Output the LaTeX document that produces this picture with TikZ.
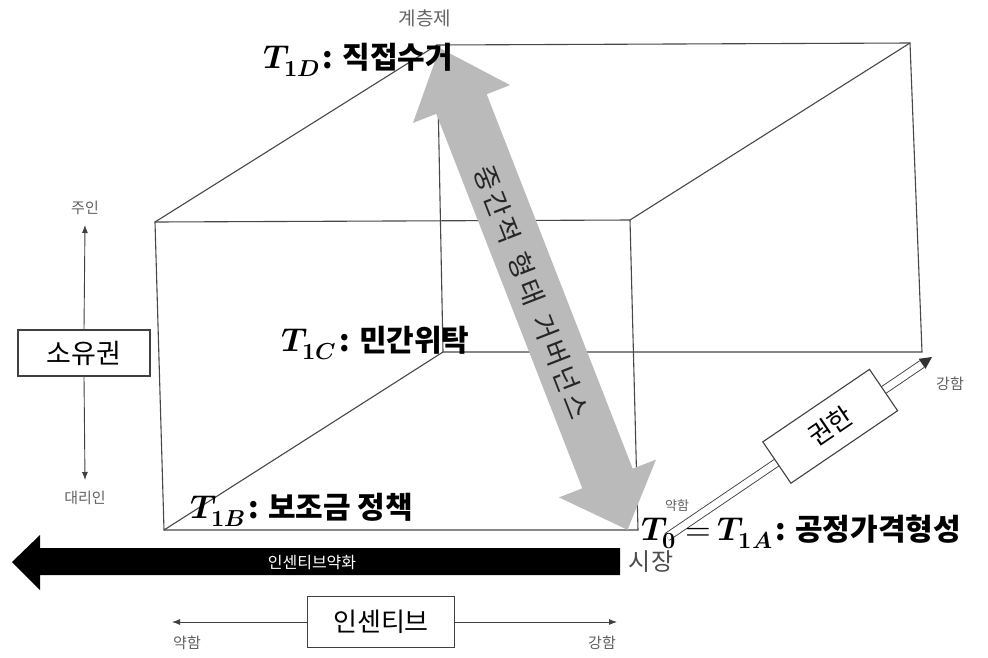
\documentclass[tikz,border=0pt]{standalone}
\usepackage{fontspec}
\usepackage{unicode-math}
\setmainfont{Noto Sans CJK KR}
\setmathfont{Latin Modern Math}[Scale=1.1]
\usetikzlibrary{arrows.meta,calc}
\newcommand{\Tsub}[1]{\ensuremath{\symbfit{T}_{#1}}\hspace{3pt}}
\begin{document}
\begin{tikzpicture}[x=1pt,y=-1pt,
  edge/.style={draw=black!72,line width=1.1pt},
  lbl/.style={anchor=base west,inner sep=0pt,font=\fontsize{30}{34}\selectfont\bfseries},
  small/.style={text=black!62,font=\fontsize{15}{17}\selectfont,inner sep=0pt},
  box/.style={draw=black!75,line width=1.1pt,fill=white,inner sep=0pt},
  thinarrow/.style={draw=black!75,line width=0.9pt,-{Latex[length=8pt,width=6pt]}}]
\useasboundingbox[fill=white] (0,0) rectangle (988,657);
% cube
\coordinate (FTL) at (155,222);
\coordinate (FTR) at (630,220);
\coordinate (FBR) at (638,530);
\coordinate (FBL) at (164,530);
\coordinate (BTL) at (437,45);
\coordinate (BTR) at (910,43);
\coordinate (BBR) at (922,352);
\coordinate (BBL) at (443,352);
\draw[edge] (FTL)--(FTR)--(FBR)--(FBL)--cycle;
\draw[edge] (BTL)--(BTR)--(BBR)--(BBL)--cycle;
\draw[edge] (FTL)--(BTL) (FTR)--(BTR) (FBL)--(BBL);
% grey double arrow
\fill[black!27] (439.7,48.1) -- (510,85.1) -- (486.7,94.2) -- (632.7,468.7) -- (656,459.6)
  -- (627.5,529.8) -- (559,497.4) -- (582.3,488.3) -- (436.3,113.8) -- (413,122.9) -- cycle;
\node[rotate=-68.7,text=black!85,font=\fontsize{27}{29}\selectfont\addfontfeatures{LetterSpace=12},inner sep=0pt] (mid) at (532,292) {중간적 \hspace{4pt}형태 \hspace{4pt}거버넌스};
% labels
\node[text=black!60,font=\fontsize{19}{21}\selectfont,inner sep=0pt] (hier) at (425,18) {계층제};
\node[lbl] (t1d) at (263,68) {\Tsub{\symbf{1}\symbfit{D}}: 직접수거};
\node[lbl] (t1c) at (281,351) {\Tsub{\symbf{1}\symbfit{C}}: 민간위탁};
\node[lbl] (t1b) at (190,518) {\Tsub{\symbf{1}\symbfit{B}}: 보조금 정책};
% authority double arrow
\coordinate (ks) at (667,537);
\coordinate (ke) at (922,364);
\coordinate (ktip) at (932,357);
\draw[draw=black!75,line width=0.9pt,double=white,double distance=7pt] (ks) -- (ke);
\fill[black!80] (ktip) -- (925.5,368.8) -- (918.7,358.8) -- cycle;
\node[box,rotate=34.2,minimum width=129pt,minimum height=50pt,font=\fontsize{26}{28}\selectfont] (auth) at ($(ks)!0.64!(ke)$) {권한};
\node[small,font=\fontsize{13}{15}\selectfont] (weak2) at (677,506) {약함};
\node[small] (strong2) at (950,384) {강함};
\node[lbl] (t0) at (641,540) {$\symbfit{T}_{\symbf{0}} = $ \Tsub{\symbf{1}\symbfit{A}}: 공정가격형성};
% market arrow
\fill[black] (12,562) -- (40,535) -- (40,548) -- (620,548) -- (620,575) -- (40,575) -- (40,590) -- cycle;
\node[text=white,font=\fontsize{16}{18}\selectfont,inner sep=0pt] (weaken) at (312,562) {인센티브약화};
\node[text=black!70,font=\fontsize{24}{26}\selectfont,inner sep=0pt] (market) at (651,562) {시장};
% ownership
\node[box,minimum width=132pt,minimum height=46pt,font=\fontsize{27}{29}\selectfont] (own) at (84,353) {소유권};
\coordinate (ownT) at (85,225);
\coordinate (ownB) at (85,480);
\draw[thinarrow] (own.north) -- (ownT);
\draw[thinarrow] (own.south) -- (ownB);
\node[small] (principal) at (85,208) {주인};
\node[small] (agent) at (85,498) {대리인};
% incentive
\node[box,minimum width=147pt,minimum height=51pt,font=\fontsize{26}{28}\selectfont] (inc) at (381,622) {인센티브};
\coordinate (incL) at (172,622);
\coordinate (incR) at (617,622);
\draw[thinarrow] (inc.west) -- (incL);
\draw[thinarrow] (inc.east) -- (incR);
\node[small] (weak1) at (187,643) {약함};
\node[small] (strong1) at (602,643) {강함};
\end{tikzpicture}
\end{document}
